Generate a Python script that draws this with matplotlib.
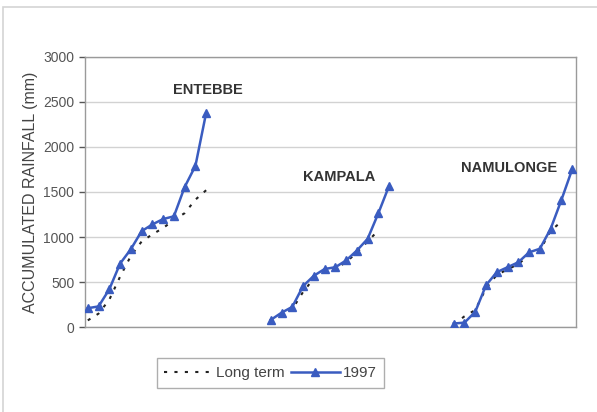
import numpy as np
import matplotlib
matplotlib.use('Agg')
import matplotlib.pyplot as plt
from matplotlib.patches import Rectangle

# accumulated rainfall (mm), 12 steps per station
stations = ['ENTEBBE', 'KAMPALA', 'NAMULONGE']
entebbe_1997 = [210, 230, 420, 705, 865, 1065, 1140, 1200, 1230, 1555, 1790, 2380]
entebbe_long = [75, 150, 305, 560, 790, 950, 1030, 1100, 1190, 1265, 1415, 1520]
kampala_1997 = [80, 160, 225, 455, 570, 645, 665, 740, 850, 980, 1265, 1570]
kampala_long = [60, 130, 200, 390, 540, 620, 650, 720, 830, 950, 1075]
namulonge_1997 = [40, 50, 170, 465, 610, 665, 720, 830, 870, 1090, 1410, 1750]
namulonge_long = [30, 120, 190, 430, 580, 640, 700, 800, 850, 1070, 1170]
y_ticks = [0, 500, 1000, 1500, 2000, 2500, 3000]

plt.rcParams['font.family'] = ['Liberation Sans', 'DejaVu Sans']

fig = plt.figure(figsize=(5.97, 4.12), dpi=100)
fig.patches.append(Rectangle((0.005, -0.05), 1.1, 1.032, transform=fig.transFigure,
                             fill=False, edgecolor='#d4d4d4', lw=1.2))
ax = fig.add_axes([0.142, 0.206, 0.823, 0.656])

blue = '#3a5cc0'
groups = [(entebbe_long, entebbe_1997), (kampala_long, kampala_1997),
          (namulonge_long, namulonge_1997)]
offset = 0
for i, (lt, y97) in enumerate(groups):
    x97 = np.arange(len(y97)) + offset
    xlt = np.arange(len(lt)) + offset
    ax.plot(xlt, lt, color='#222222', lw=1.5, linestyle=(0, (1.5, 3.5)),
            label='Long term' if i == 0 else None, zorder=2)
    ax.plot(x97, y97, color=blue, lw=1.8, marker='^', markersize=6,
            label='1997' if i == 0 else None, zorder=3)
    offset += 17

ax.text(11.2, 2630, 'ENTEBBE', ha='center', va='center', fontsize=10.5,
        fontweight='bold', color='#333333')
ax.text(23.4, 1665, 'KAMPALA', ha='center', va='center', fontsize=10.5,
        fontweight='bold', color='#333333')
ax.text(39.1, 1765, 'NAMULONGE', ha='center', va='center', fontsize=10.5,
        fontweight='bold', color='#333333')

ax.set_xlim(-0.28, 45.37)
ax.set_ylim(0, 3000)
ax.set_yticks(y_ticks)
ax.set_xticks([])
ax.tick_params(axis='y', labelsize=10, colors='#555555', length=4, width=1)
ax.yaxis.grid(True, color='#d2d2d2', lw=1)
ax.set_axisbelow(True)
for s in ax.spines.values():
    s.set_color('#9a9a9a')
    s.set_linewidth(1)
ax.set_ylabel('ACCUMULATED RAINFALL (mm)', fontsize=11.5, color='#444444', labelpad=4)

leg = ax.legend(loc='center', bbox_to_anchor=(0.378, -0.17), ncol=2, frameon=True,
                fontsize=11, handlelength=3.2, handletextpad=0.2, columnspacing=0.4,
                borderpad=0.5, fancybox=False, labelcolor='#444444')
leg.get_frame().set_edgecolor('#9a9a9a')
leg.get_frame().set_linewidth(1)

fig.savefig('out.png', dpi=100)
